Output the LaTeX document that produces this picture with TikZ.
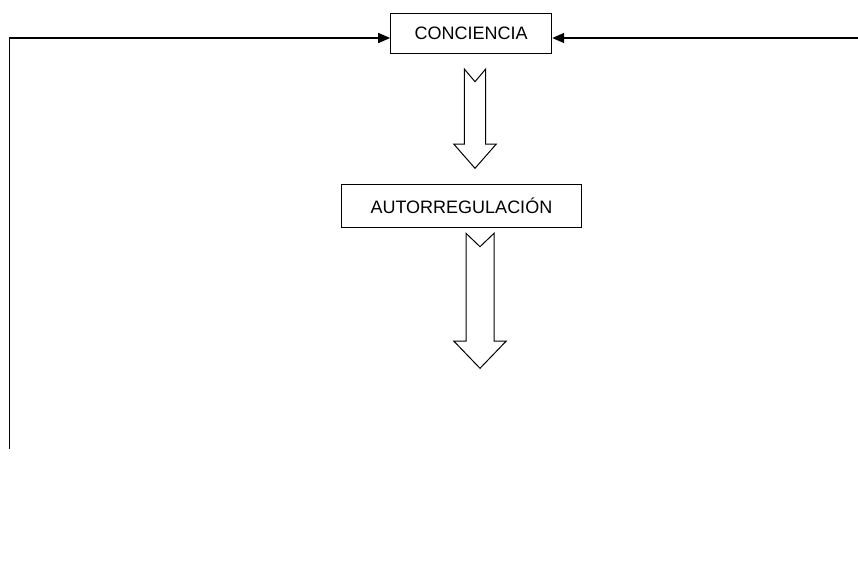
\documentclass[tikz,border=0pt]{standalone}
\usepackage{fontspec}
\setmainfont{Liberation Sans}
\usetikzlibrary{arrows.meta}
\tikzset{
  box/.style={draw,line width=1pt,inner sep=0pt,font=\fontsize{18}{22}\selectfont},
  link/.style={line width=1.5pt,-{Triangle[length=12pt,width=10pt]}},
  blockarrow/.style={draw,line width=1pt,line join=miter}
}
\begin{document}
\begin{tikzpicture}[x=1pt,y=-1pt]
    \useasboundingbox (0,0) rectangle (858,578);
    \node[box,minimum width=161pt,minimum height=40pt] (conc) at (471.2,33.3) {CONCIENCIA};
    \node[box,minimum width=240.7pt,minimum height=43.7pt] (autor) at (461.4,206) {AUTORREGULACIÓN};
    \coordinate (lend) at (9.7,449);
    \coordinate (rend) at (858,38);
    \draw[link] (lend) |- (conc.west |- 0,38);
    \draw[link] (rend) -- (conc.east |- 0,38);
    % block arrows: centre, shaft, head, top, notch, base, tip
    \foreach \c/\s/\h/\t/\n/\b/\p in {475/10.7/21.3/69/81.7/144/168.3,480/14/26.3/233.3/246.7/341/368.3} {
      \draw[blockarrow] (\c-\s,\t) -- (\c,\n) -- (\c+\s,\t) -- (\c+\s,\b) -- (\c+\h,\b)
        -- (\c,\p) -- (\c-\h,\b) -- (\c-\s,\b) -- cycle;
    }
\end{tikzpicture}
\end{document}
